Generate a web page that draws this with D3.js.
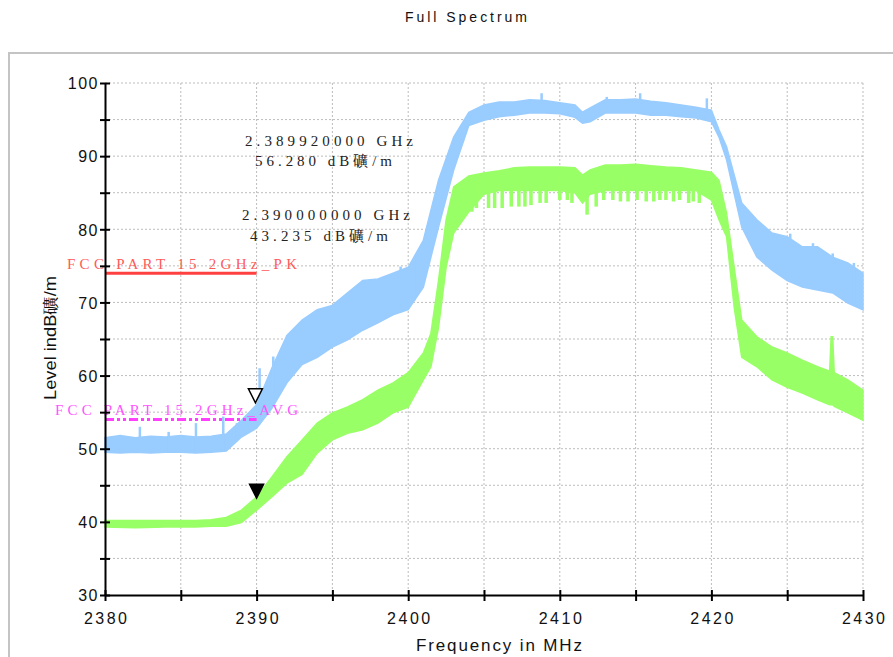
<!DOCTYPE html>
<html><head><meta charset="utf-8">
<script src="https://cdn.jsdelivr.net/npm/d3@7/dist/d3.min.js"></script>
<style>body{margin:0;background:#fff}svg{display:block}</style>
</head><body>
<svg id="chart" width="893" height="657"></svg>
<script>
// ---- data ----
const title = "Full Spectrum";
const xLabel = "Frequency in MHz";
const yLabel = "Level indB礦/m";
const xTicks = [2380, 2390, 2400, 2410, 2420, 2430];
const yTicks = [30, 40, 50, 60, 70, 80, 90, 100];

// Peak trace envelope (blue)
const peakFreq = [2380,2381,2382,2383,2384,2385,2386,2387,2388,2389,2390,2391,2392,2393,2394,2395,2396,2397,2398,2399,2400,2401,2402,2403,2404,2405,2406,2407,2408,2409,2410,2411,2411.5,2412,2413,2414,2415,2416,2417,2418,2419,2420,2420.5,2421,2422,2423,2424,2425,2426,2427,2428,2429,2430];
const peakHigh = [51.5,51.8,51.5,51.7,51.6,51.8,51.6,51.7,52.0,53.9,56.0,61.0,65.5,67.6,69.0,69.6,71.3,73.0,73.2,74.0,74.8,78.5,86.7,92.6,96.0,97.0,97.4,97.4,97.7,97.6,97.3,97.0,96.0,96.6,97.7,97.7,97.8,97.5,97.3,97.0,96.7,96.3,93.6,91.3,83.6,81.3,79.5,79.0,77.6,77.6,76.2,75.4,74.0];
const peakLow  = [49.5,49.4,49.5,49.4,49.5,49.5,49.4,49.5,49.7,51.6,52.8,55.5,59.0,61.5,62.5,63.9,64.9,66.2,67.2,68.3,69.0,72.1,80.3,88.1,94.2,94.9,95.4,95.6,95.9,95.9,95.8,95.3,94.5,94.7,95.9,95.9,95.9,95.6,95.6,95.4,95.2,94.7,92.6,89.5,80.3,76.2,74.4,73.0,72.1,71.7,71.3,69.9,69.0];
const peakSpikeFreq = [2382.3,2384.2,2386.0,2387.8,2388.7,2390.2,2391.1,2399.5,2400.4,2408.8,2413.1,2415.3,2419.7,2425.2,2426.7,2428.0,2429.4];
const peakSpikeVal  = [53.0,52.3,53.5,54.4,53.5,61.0,62.6,74.9,75.6,98.6,98.1,98.6,97.9,79.4,78.1,76.7,75.4];

// Average trace envelope (green)
const avgFreq = [2380,2382,2384,2386,2387,2388,2389,2390,2391,2392,2393,2394,2395,2396,2397,2398,2399,2400,2401,2401.5,2402,2402.5,2403,2404,2405,2406,2407,2408,2409,2410,2411,2411.5,2412,2413,2414,2415,2416,2417,2418,2419,2420,2420.5,2421,2421.5,2422,2423,2424,2425,2426,2427,2427.8,2427.9,2428.0,2428.1,2429,2430];
const avgHigh = [40.2,40.2,40.2,40.2,40.3,40.6,41.6,43.4,46.1,48.9,51.2,53.5,54.9,55.7,56.7,58.0,59.0,60.4,63.1,65.8,73.0,81.3,85.8,87.3,87.7,88.0,88.4,88.5,88.5,88.5,88.4,87.4,88.1,88.8,88.8,88.9,88.7,88.5,88.4,88.1,87.8,86.7,82.2,74.8,67.6,65.3,63.9,63.1,62.1,61.2,60.6,65.3,65.3,60.4,59.4,58.0];
const avgLow  = [39.3,39.2,39.3,39.3,39.4,39.4,39.9,41.6,43.4,45.3,46.5,49.4,51.2,52.1,52.6,53.5,54.9,55.7,59.4,61.2,66.6,74.8,79.5,82.4,84.8,85.3,85.3,85.3,85.3,85.3,85.0,83.6,84.8,85.3,85.3,85.3,85.3,85.3,85.3,85.3,84.0,81.3,79.0,69.4,62.5,61.2,59.4,58.4,57.6,56.7,56.0,56.0,56.0,55.8,54.9,53.9];
const avgDipFreq = [2403.75,2404.2,2404.5,2405.3,2405.7,2406.2,2406.8,2407.3,2407.7,2408.1,2408.7,2409.1,2410.0,2410.5,2410.8,2411.8,2412.4,2412.9,2413.5,2414.0,2414.5,2415.1,2415.7,2416.2,2416.6,2417.0,2417.5,2417.9,2418.5,2418.8,2419.2];
const avgDipVal  = [82.4,82.4,82.9,82.9,82.9,82.9,83.1,83.1,83.1,83.3,83.6,83.6,84.0,84.0,83.6,82.0,83.1,84.0,84.0,83.8,83.8,84.0,83.8,83.8,84.0,84.0,83.8,84.0,83.6,83.8,83.6];

// Limit lines
const limitNames = ["FCC PART 15 2GHz_PK", "FCC PART 15 2GHz_AVG"];
const limitValues = [74, 54];
const limitRange = [2380, 2390];

// Markers
const markerFreq = [2389.92, 2390.0];
const markerVal = [56.28, 43.235];
const markerLine1 = ["2.389920000 GHz", "2.390000000 GHz"];
const markerLine2 = ["56.280 dB礦/m", "43.235 dB礦/m"];

// ---- drawing ----
const svg = d3.select("#chart");
const x = d3.scaleLinear().domain([2380, 2430]).range([105, 863]);
const y = d3.scaleLinear().domain([30, 100]).range([595, 83]);

// frame
svg.append("rect").attr("x", 9).attr("y", 53).attr("width", 900).attr("height", 620)
  .attr("fill", "none").attr("stroke", "#c4c4c4").attr("stroke-width", 2);

// title
svg.append("text").attr("x", 466).attr("y", 22).attr("text-anchor", "middle")
  .attr("font-family", "Liberation Sans, Arial, sans-serif").attr("font-size", 14)
  .attr("textLength", 122).attr("lengthAdjust", "spacing").attr("fill", "#111").text(title);

// grid
const gx = d3.range(2385, 2431, 5), gy = d3.range(35, 101, 5);
const grid = svg.append("g").attr("stroke", "#bdbdbd").attr("stroke-width", 1).attr("stroke-dasharray", "2,2");
grid.selectAll(".v").data(gx).join("line").attr("x1", d => x(d)).attr("x2", d => x(d)).attr("y1", y(100)).attr("y2", y(30));
grid.selectAll(".h").data(gy).join("line").attr("y1", d => y(d)).attr("y2", d => y(d)).attr("x1", x(2380)).attr("x2", x(2430));

// bands
const peakData = peakFreq.map((f, i) => ({f, hi: peakHigh[i], lo: peakLow[i]}));
const avgData = avgFreq.map((f, i) => ({f, hi: avgHigh[i], lo: avgLow[i]}));
const area = d3.area().x(d => x(d.f)).y0(d => y(d.lo)).y1(d => y(d.hi));
const blue = "#99ccff", green = "#99ff66";
const plot = svg.append("g");
plot.append("path").datum(peakData).attr("d", area).attr("fill", blue).attr("stroke", blue).attr("stroke-width", 1.5);
const peakInterp = d3.scaleLinear().domain(peakFreq).range(peakLow);
plot.selectAll(".ps").data(peakSpikeFreq).join("line")
  .attr("x1", d => x(d)).attr("x2", d => x(d))
  .attr("y1", d => y(peakInterp(d))).attr("y2", (d, i) => y(peakSpikeVal[i]))
  .attr("stroke", blue).attr("stroke-width", 2.5);
plot.append("path").datum(avgData).attr("d", area).attr("fill", green).attr("stroke", green).attr("stroke-width", 1.5);
const avgInterp = d3.scaleLinear().domain(avgFreq).range(avgHigh);
plot.selectAll(".ad").data(avgDipFreq).join("line")
  .attr("x1", d => x(d)).attr("x2", d => x(d))
  .attr("y1", d => y(avgInterp(d) - 1)).attr("y2", (d, i) => y(avgDipVal[i]))
  .attr("stroke", green).attr("stroke-width", 3.5);

// limit lines
svg.append("line").attr("x1", x(limitRange[0])).attr("x2", x(limitRange[1]))
  .attr("y1", y(limitValues[0])).attr("y2", y(limitValues[0]))
  .attr("stroke", "#ff4040").attr("stroke-width", 3);
svg.append("line").attr("x1", x(limitRange[0])).attr("x2", x(limitRange[1]))
  .attr("y1", y(limitValues[1])).attr("y2", y(limitValues[1]))
  .attr("stroke", "#ff40ff").attr("stroke-width", 3).attr("stroke-dasharray", "9,3,3,3,3,3");
svg.append("text").attr("x", 67).attr("y", 269).attr("font-family", "Liberation Serif, serif").attr("font-size", 15)
  .attr("fill", "#ff5a5a").attr("textLength", 230).attr("lengthAdjust", "spacing").text(limitNames[0]);
svg.append("text").attr("x", 55).attr("y", 415).attr("font-family", "Liberation Serif, serif").attr("font-size", 15)
  .attr("fill", "#ff55ff").attr("textLength", 243).attr("lengthAdjust", "spacing").text(limitNames[1]);

// axes
const yAxis = d3.axisLeft(y).tickValues(d3.range(30, 101, 5)).tickSize(5).tickSizeOuter(0)
  .tickFormat(d => yTicks.includes(d) ? d : "");
const ya = svg.append("g").attr("transform", `translate(${x(2380)},0)`).call(yAxis);
ya.select(".domain").attr("stroke", "#000").attr("stroke-width", 2);
ya.selectAll(".tick line").attr("x1", 5).attr("x2", -5).attr("stroke", "#000").attr("stroke-width", 2);
ya.selectAll(".tick text").attr("x", -6).attr("dy", "0.36em")
  .attr("font-family", "Liberation Sans, Arial, sans-serif").attr("font-size", 16).attr("fill", "#111")
  .attr("letter-spacing", "1.5px");

const xAxis = d3.axisBottom(x).tickValues(d3.range(2380, 2431, 5)).tickSize(5).tickSizeOuter(0)
  .tickFormat(d => xTicks.includes(d) ? d : "");
const xa = svg.append("g").attr("transform", `translate(0,${y(30)})`).call(xAxis);
xa.select(".domain").attr("stroke", "#000").attr("stroke-width", 2);
xa.selectAll(".tick line").attr("y1", -5).attr("y2", 6).attr("stroke", "#000").attr("stroke-width", 2);
xa.selectAll(".tick text").attr("y", 29).attr("dy", 0)
  .attr("font-family", "Liberation Sans, Arial, sans-serif").attr("font-size", 16).attr("fill", "#111")
  .attr("letter-spacing", "2.5px").attr("dx", "1.2px");

// axis labels
svg.append("text").attr("x", 499).attr("y", 651).attr("text-anchor", "middle")
  .attr("font-family", "Liberation Sans, Arial, sans-serif").attr("font-size", 17).attr("fill", "#111")
  .attr("textLength", 166).attr("lengthAdjust", "spacing").text(xLabel);
svg.append("text").attr("transform", "translate(56,400) rotate(-90)").attr("x", 0).attr("y", 0)
  .attr("font-family", "Liberation Sans, Arial, sans-serif").attr("font-size", 16).attr("fill", "#111")
  .attr("textLength", 124).attr("lengthAdjust", "spacingAndGlyphs").text(yLabel);

// marker texts
const mtx = [245, 255, 242, 250];
const mty = [146, 166, 220, 241];
const mtw = [168, 137, 168, 138];
const mTexts = [markerLine1[0], markerLine2[0], markerLine1[1], markerLine2[1]];
svg.selectAll(".mt").data(mTexts).join("text")
  .attr("x", (d, i) => mtx[i]).attr("y", (d, i) => mty[i])
  .attr("font-family", "Liberation Serif, serif").attr("font-size", 15).attr("fill", "#222")
  .attr("textLength", (d, i) => mtw[i]).attr("lengthAdjust", "spacing").text(d => d);

// marker triangles (apex at data point)
const tri = (f, v) => {
  const px = x(f), py = y(v);
  return `M${px},${py} L${px - 7},${py - 14} L${px + 7},${py - 14} Z`;
};
svg.append("path").attr("d", tri(markerFreq[0], markerVal[0])).attr("fill", "#fff").attr("stroke", "#000").attr("stroke-width", 1.5);
svg.append("path").attr("d", tri(markerFreq[1], markerVal[1])).attr("fill", "#000").attr("stroke", "#000").attr("stroke-width", 1.5);
</script>
</body></html>
